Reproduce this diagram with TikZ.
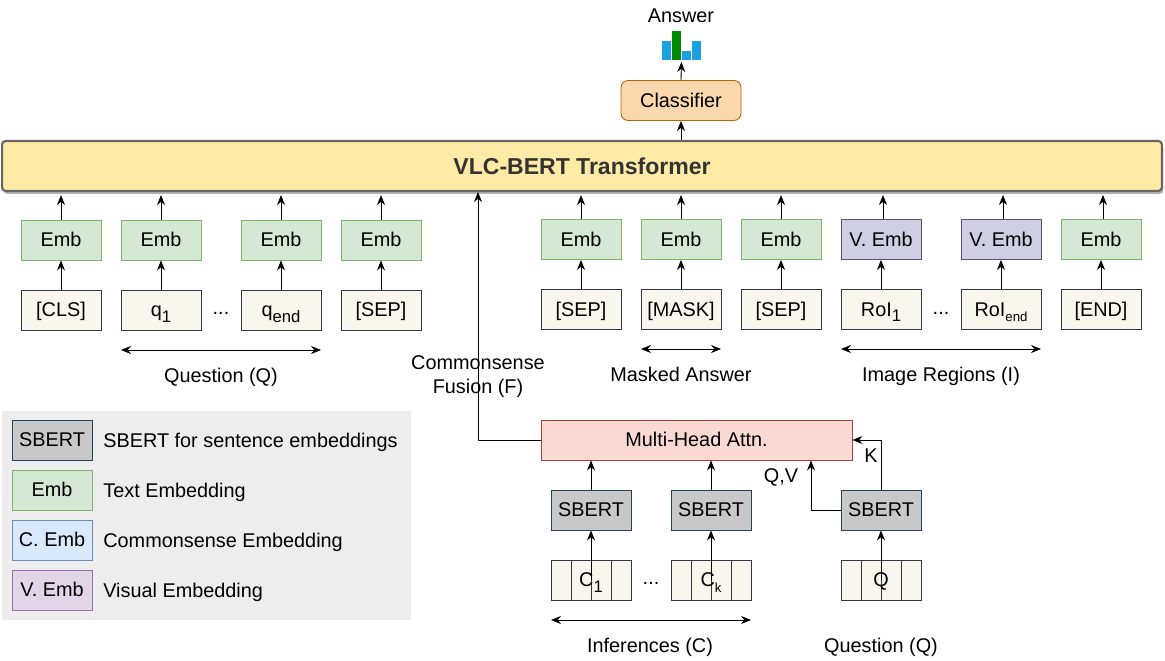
\documentclass[tikz,border=0pt]{standalone}
\usepackage{fontspec}
\setmainfont{Liberation Sans}
\usetikzlibrary{arrows.meta, shadows}
\definecolor{embfill}{HTML}{D5E8D4}
\definecolor{embline}{HTML}{82B366}
\definecolor{tokfill}{HTML}{F9F7ED}
\definecolor{tokline}{HTML}{36393D}
\definecolor{vembfill}{HTML}{D0CEE2}
\definecolor{vembline}{HTML}{56517E}
\definecolor{sbertfill}{HTML}{C8C8C8}
\definecolor{sbertline}{HTML}{23445D}
\definecolor{attnfill}{HTML}{FAD9D5}
\definecolor{attnline}{HTML}{AE4132}
\definecolor{clsfill}{HTML}{FAD7AC}
\definecolor{clsline}{HTML}{B46504}
\definecolor{vlcfill}{HTML}{FFEAA6}
\definecolor{barblue}{HTML}{1BA1E2}
\definecolor{bargreen}{HTML}{008A00}
\definecolor{legendbg}{HTML}{EDEDED}
\definecolor{cembfill}{HTML}{DAE8FC}
\definecolor{cembline}{HTML}{6C8EBF}
\definecolor{lvembfill}{HTML}{E1D5E7}
\definecolor{lvembline}{HTML}{9673A6}
\newcommand{\bigsub}[1]{\raisebox{-3pt}{\fontsize{9.5}{10}\selectfont #1}}
\newcommand{\smallsub}[1]{\raisebox{-3pt}{\fontsize{7.5}{9}\selectfont #1}}
\tikzset{
  every node/.style={font=\fontsize{11.3}{13.6}\selectfont, inner sep=0pt},
  box/.style={draw, line width=0.5pt, minimum width=1.6cm, minimum height=0.8cm, text height=7.8pt, text depth=0pt},
  emb/.style={box, draw=embline, fill=embfill},
  tok/.style={box, draw=tokline, fill=tokfill},
  vemb/.style={box, draw=vembline, fill=vembfill},
  sbert/.style={box, draw=sbertline, fill=sbertfill},
  cemb/.style={box, draw=cembline, fill=cembfill},
  lvemb/.style={box, draw=lvembline, fill=lvembfill},
  cellbox/.style={tok, path picture={
    \draw[tokline, line width=0.5pt] (path picture bounding box.south) -- (path picture bounding box.north);
    \draw[tokline, line width=0.5pt] ([xshift=-0.4cm]path picture bounding box.south) -- ([xshift=-0.4cm]path picture bounding box.north);
    \draw[tokline, line width=0.5pt] ([xshift=0.4cm]path picture bounding box.south) -- ([xshift=0.4cm]path picture bounding box.north);
  }},
  arr/.style={-{Stealth[length=0.2cm, width=0.16cm]}, line width=0.5pt},
  darr/.style={{Stealth[length=0.2cm, width=0.16cm]}-{Stealth[length=0.2cm, width=0.16cm]}, line width=0.5pt},
  bar/.style={anchor=south, minimum width=0.185cm}
}
\begin{document}
\begin{tikzpicture}[x=0.02cm, y=-0.02cm]
  \useasboundingbox (0,0) rectangle (1165,661);

  % Transformer
  \node[draw=black!60, line width=1.2pt, rounded corners=0.07cm, fill=vlcfill, minimum width=23.2cm, minimum height=1cm,
    drop shadow={shadow xshift=0.03cm, shadow yshift=-0.06cm, opacity=0.3, fill=black},
    font=\fontsize{13.1}{15}\selectfont\bfseries, text=black!80] (vlc) at (582,166) {VLC-BERT Transformer};

  % Classifier and answer
  \node[box, rounded corners=0.14cm, draw=clsline, fill=clsfill, minimum width=2.4cm] (classifier) at (681,100.5) {Classifier};
  \node[bar, fill=barblue, minimum height=0.38cm] (bar1) at (666.5,60) {};
  \node[bar, fill=bargreen, minimum height=0.58cm] (bar2) at (676.5,60) {};
  \node[bar, fill=barblue, minimum height=0.18cm] (bar3) at (686.5,60) {};
  \node[bar, fill=barblue, minimum height=0.38cm] (bar4) at (696.5,60) {};
  \node (answer) at (681,15.5) {Answer};
  \draw[arr] (vlc.north -| classifier) -- (classifier.south);
  \draw[arr, shorten >=0.04cm] (classifier.north) -- (bar2.south east);

  % Question tokens
  \node[tok] (cls) at (61,310) {[CLS]};
  \node[tok] (q1) at (161,310) {q\bigsub{1}};
  \node[tok] (qend) at (281,310) {q\bigsub{end}};
  \node[tok] (sep1) at (381,310) {[SEP]};
  \node (qdots) at (221,313) {...};
  \node[emb] (embcls) at (61,240) {Emb};
  \node[emb] (embq1) at (161,240) {Emb};
  \node[emb] (embqend) at (281,240) {Emb};
  \node[emb] (embsep1) at (381,240) {Emb};

  \draw[arr] (cls) -- (embcls);
  \draw[arr] (q1) -- (embq1);
  \draw[arr] (qend) -- (embqend);
  \draw[arr] (sep1) -- (embsep1);
  \draw[arr, shorten >=0.06cm] (embcls.north) -- (embcls.north |- vlc.south);
  \draw[arr, shorten >=0.06cm] (embq1.north) -- (embq1.north |- vlc.south);
  \draw[arr, shorten >=0.06cm] (embqend.north) -- (embqend.north |- vlc.south);
  \draw[arr, shorten >=0.06cm] (embsep1.north) -- (embsep1.north |- vlc.south);

  \coordinate (qleft) at (121,350);
  \coordinate (qright) at (321,350);
  \draw[darr] (qleft) -- (qright);
  \node (qlabel) at (221,377) {Question (Q)};

  % Answer and image tokens
  \node[tok] (sep2) at (581,309.5) {[SEP]};
  \node[tok] (mask) at (681,309.5) {[MASK]};
  \node[tok] (sep3) at (781,309.5) {[SEP]};
  \node[tok] (roi1) at (881,309.5) {RoI\bigsub{1}};
  \node[tok] (roiend) at (1001,309.5) {RoI\smallsub{end}};
  \node[tok] (endtok) at (1101,309.5) {[END]};
  \node (roidots) at (941,313) {...};
  \node[emb] (embsep2) at (581,239.5) {Emb};
  \node[emb] (embmask) at (681,239.5) {Emb};
  \node[emb] (embsep3) at (781,239.5) {Emb};
  \node[vemb] (vemb1) at (881,239.5) {V. Emb};
  \node[vemb] (vembend) at (1001,239.5) {V. Emb};
  \node[emb] (embend) at (1101,239.5) {Emb};

  \draw[arr] (sep2) -- (embsep2);
  \draw[arr] (mask) -- (embmask);
  \draw[arr] (sep3) -- (embsep3);
  \draw[arr] (roi1) -- (vemb1);
  \draw[arr] (roiend) -- (vembend);
  \draw[arr] (endtok) -- (embend);
  \draw[arr, shorten >=0.06cm] (embsep2.north) -- (embsep2.north |- vlc.south);
  \draw[arr, shorten >=0.06cm] (embmask.north) -- (embmask.north |- vlc.south);
  \draw[arr, shorten >=0.06cm] (embsep3.north) -- (embsep3.north |- vlc.south);
  \draw[arr, shorten >=0.06cm] ([xshift=0.04cm]vemb1.north) -- ([xshift=0.04cm]vemb1.north |- vlc.south);
  \draw[arr, shorten >=0.06cm] ([xshift=0.04cm]vembend.north) -- ([xshift=0.04cm]vembend.north |- vlc.south);
  \draw[arr, shorten >=0.06cm] ([xshift=0.04cm]embend.north) -- ([xshift=0.04cm]embend.north |- vlc.south);

  \coordinate (maskleft) at (641,349);
  \coordinate (maskright) at (721,349);
  \draw[darr] (maskleft) -- (maskright);
  \node (masklabel) at (681,374) {Masked Answer};
  \coordinate (roileft) at (841,349);
  \coordinate (roiright) at (1041,349);
  \draw[darr] (roileft) -- (roiright);
  \node (roilabel) at (941,376) {Image Regions (I)};

  % Commonsense fusion
  \node[box, draw=attnline, fill=attnfill, minimum width=6.22cm] (attn) at (696.5,440) {Multi-Head Attn.};
  \node[align=center] (fusion) at (478,376.5) {Commonsense\\Fusion (F)};
  \coordinate (fusionturn) at (478,440);
  \draw[arr] (attn.west) -- (fusionturn) -- (fusionturn |- vlc.south);

  \node[sbert] (sbertc1) at (591,510) {SBERT};
  \node[sbert] (sbertck) at (711,510) {SBERT};
  \node[sbert] (sbertq) at (881,510) {SBERT};
  \node[cellbox] (c1) at (591,580) {C\bigsub{1}};
  \node[cellbox] (ck) at (711,580) {C\smallsub{k}};
  \node[cellbox] (qcells) at (881,580) {Q};
  \node (cdots) at (651,583) {...};

  \draw[arr] (c1.center) -- (sbertc1);
  \draw[arr] (ck.center) -- (sbertck);
  \draw[arr] (qcells.center) -- (sbertq);
  \draw[arr] (sbertc1) -- (sbertc1 |- attn.south);
  \draw[arr] (sbertck) -- (sbertck |- attn.south);
  \coordinate (qvturn) at (811,510);
  \draw[arr] (sbertq.west) -- (qvturn) -- (qvturn |- attn.south);
  \draw[arr] (sbertq.north) -- (sbertq.north |- attn.east) -- (attn.east);
  \node (qvlabel) at (781,477) {Q,V};
  \node (klabel) at (871,456) {K};

  \coordinate (cleft) at (551,620);
  \coordinate (cright) at (751,620);
  \draw[darr] (cleft) -- (cright);
  \node (clabel) at (650,647) {Inferences (C)};
  \node (qlabel2) at (881,647) {Question (Q)};

  % Legend
  \node[fill=legendbg, minimum width=8.18cm, minimum height=4.18cm] (legend) at (206.5,515.5) {};
  \node[sbert] (lsbert) at (52,440) {SBERT};
  \node[emb] (lemb) at (52,490) {Emb};
  \node[cemb] (lcemb) at (52,540) {C. Emb};
  \node[lvemb] (lvemb) at (52,590) {V. Emb};
  \node[anchor=west] (tsbert) at (103,442) {SBERT for sentence embeddings};
  \node[anchor=west] (temb) at (103,492) {Text Embedding};
  \node[anchor=west] (tcemb) at (103,542) {Commonsense Embedding};
  \node[anchor=west] (tvemb) at (103,592) {Visual Embedding};
\end{tikzpicture}
\end{document}
